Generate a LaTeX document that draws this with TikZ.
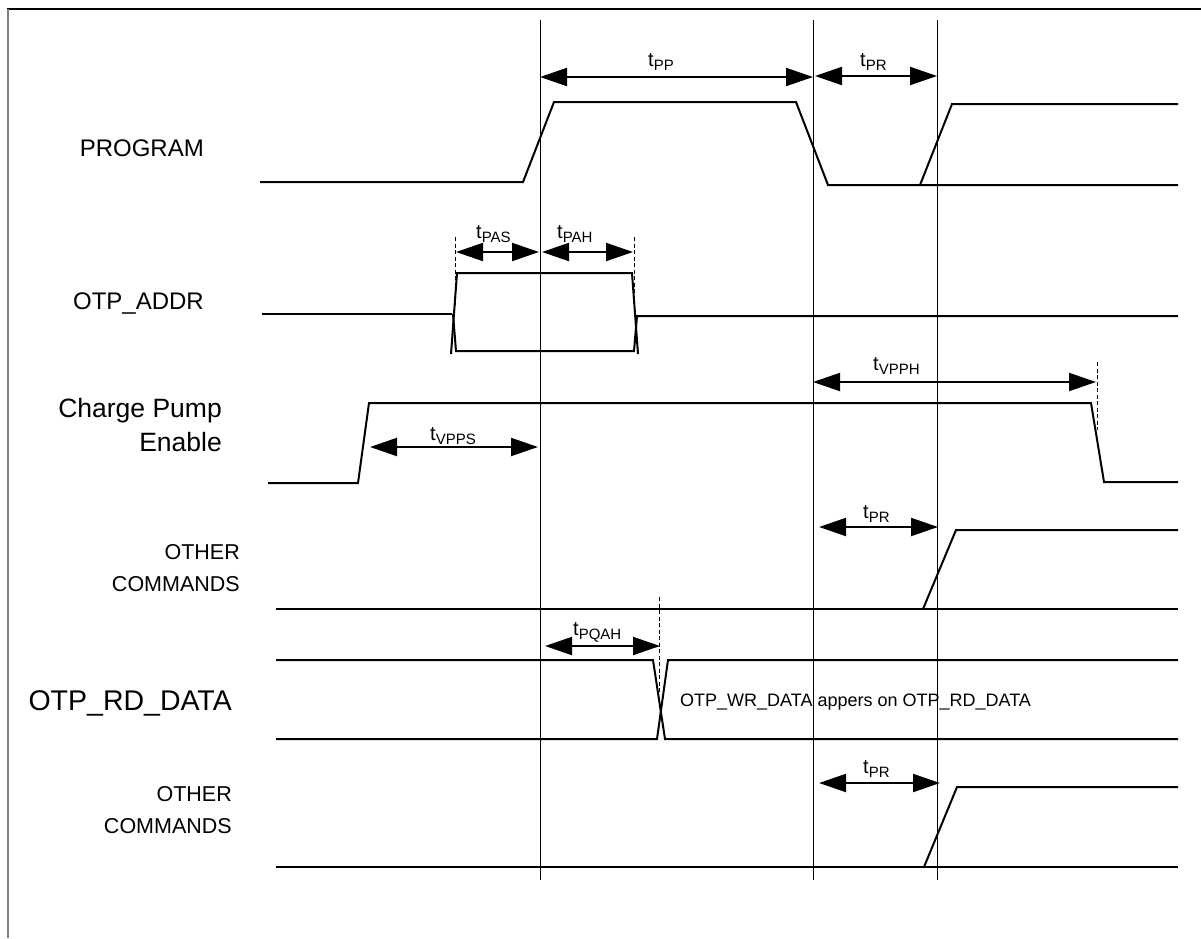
\documentclass[tikz,border=0pt]{standalone}
\usepackage{fontspec}
\setmainfont{Liberation Sans}
\usetikzlibrary{arrows.meta}
\newcommand\tlab[1]{{\fontsize{20}{20}\selectfont t}\raisebox{-4pt}{\fontsize{15}{15}\selectfont #1}}
\newcommand\biglbl{\fontsize{24}{28}\selectfont}
\newcommand\cplbl{\fontsize{26.5}{30}\selectfont}
\newcommand\rdlbl{\fontsize{28.5}{32}\selectfont}
\newcommand\midlbl{\fontsize{21.5}{26}\selectfont}
\newcommand\smalltxt{\fontsize{18}{20}\selectfont}
\begin{document}
\begin{tikzpicture}[x=1pt,y=-1pt,
  sig/.style={line width=2pt, line join=miter},
  refline/.style={line width=0.9pt},
  dsh/.style={line width=1pt, dash pattern=on 4pt off 2.5pt},
  meas/.style={line width=2pt, {Triangle[length=27pt,width=18pt]}-{Triangle[length=27pt,width=18pt]}},
  lbl/.style={anchor=base east, inner sep=0pt, font=\biglbl},
  lblm/.style={anchor=base east, inner sep=0pt, font=\midlbl},
  tl/.style={anchor=base west, inner sep=0pt}]
\useasboundingbox (0,0) rectangle (1201,938);
% frame
\draw[line width=2pt] (7,9) -- (1201,9);
\draw[line width=2pt, gray] (8,9) -- (8,938);
% reference vertical lines
\draw[refline] (540,20) -- (540,880);
\draw[refline] (813,20) -- (813,880);
\draw[refline] (937,20) -- (937,880);
% signal labels
\node[lbl] (lprog) at (204,156) {PROGRAM};
\node[lbl] (laddr) at (204,309) {OTP\_ADDR};
\node[lbl, font=\cplbl] (lcp1) at (222,417) {Charge Pump};
\node[lbl, font=\cplbl] (lcp2) at (222,451) {Enable};
\node[lblm] (loc1a) at (240,559) {OTHER};
\node[lblm] (loc1b) at (240,591) {COMMANDS};
\node[lbl, font=\rdlbl] (lrd) at (232,710) {OTP\_RD\_DATA};
\node[lblm] (loc2a) at (232,801) {OTHER};
\node[lblm] (loc2b) at (232,833) {COMMANDS};
% PROGRAM
\draw[sig] (260,182) -- (523,182) -- (554,102) -- (796,102) -- (828,185) -- (1178,185);
\draw[sig] (920,185) -- (952,104) -- (1178,104);
% OTP_ADDR
\draw[sig] (262,314) -- (452,314);
\draw[sig] (451,354) -- (457,273) -- (632,273) -- (638,354);
\draw[sig] (453,314) -- (456,351) -- (634,351) -- (637,316) -- (1178,316);
% Charge pump
\draw[sig] (268,483) -- (358,483) -- (369,403) -- (1091,403) -- (1104,482) -- (1178,482);
% OTHER COMMANDS 1
\draw[sig] (276,609) -- (1178,609);
\draw[sig] (923,609) -- (956,530) -- (1178,530);
% OTP_RD_DATA
\draw[sig] (276,660) -- (653,660) -- (665,739) -- (1178,739);
\draw[sig] (276,739) -- (657,739) -- (668,660) -- (1178,660);
\node[anchor=base west, inner sep=0pt, font=\smalltxt] (wrtxt) at (680,706) {OTP\_WR\_DATA appers on OTP\_RD\_DATA};
% OTHER COMMANDS 2
\draw[sig] (276,867) -- (1178,867);
\draw[sig] (924,867) -- (957,787) -- (1178,787);
% dashed markers
\draw[dsh] (455,237) -- (455,305);
\draw[dsh] (634,237) -- (634,310);
\draw[dsh] (1097,362) -- (1097,430);
\draw[dsh] (659,597) -- (659,693);
% measurement arrows
\draw[meas] (540,77) -- (813,77);
\node[tl] (tpp) at (648,66) {\tlab{PP}};
\draw[meas] (815,76) -- (937,76);
\node[tl] (tpr1) at (860,66) {\tlab{PR}};
\draw[meas] (456,252) -- (539,252);
\node[tl] (tpas) at (476,238) {\tlab{PAS}};
\draw[meas] (542,252) -- (633,252);
\node[tl] (tpah) at (557,238) {\tlab{PAH}};
\draw[meas] (813,382) -- (1096,382);
\node[tl] (tvpph) at (873,370) {\tlab{VPPH}};
\draw[meas] (370,447) -- (538,447);
\node[tl] (tvpps) at (430,440) {\tlab{VPPS}};
\draw[meas] (819,527) -- (938,527);
\node[tl] (tpr2) at (863,518) {\tlab{PR}};
\draw[meas] (545,646) -- (660,646);
\node[tl] (tpqah) at (573,635) {\tlab{PQAH}};
\draw[meas] (819,783) -- (940,783);
\node[tl] (tpr3) at (863,773) {\tlab{PR}};
\end{tikzpicture}
\end{document}
